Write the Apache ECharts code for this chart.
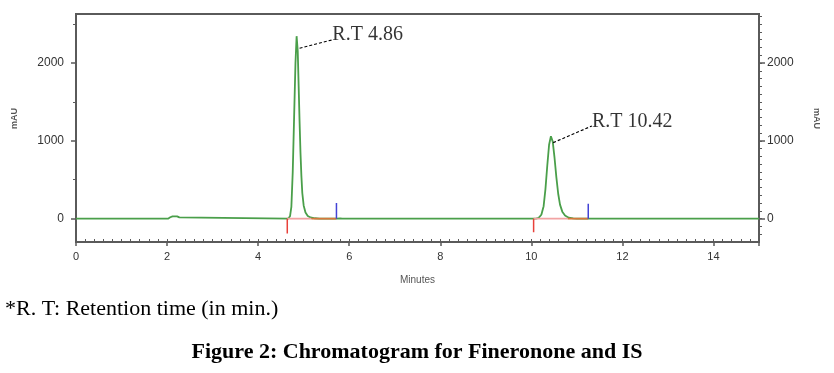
<!DOCTYPE html>
<html><head><meta charset="utf-8">
<script src="https://cdn.jsdelivr.net/npm/echarts@6/dist/echarts.min.js"></script>
<style>html,body{margin:0;padding:0;background:#fff}#c{width:834px;height:373px}</style>
</head><body><div id="c"></div>
<script>
// ---- data ----
const xTickLabels = [0, 2, 4, 6, 8, 10, 12, 14];
const yTickLabels = [0, 1000, 2000];
const yMidTicks = [-500, 500, 1500, 2500];
const yMinorTicks = [-200,-100,0,100,200,300,400,500,600,700,800,900,1000,1100,1200,1300,1400,1500,1600,1700,1800,1900,2000,2100,2200,2300,2400,2500,2600];
// chromatogram trace: [minutes, mAU]
const trace = [
  [0,0],[2.02,0],[2.07,18],[2.12,30],[2.22,30],[2.27,16],[2.31,0],
  [4.66,0],[4.70,30],[4.73,150],[4.76,600],[4.79,1300],[4.82,2000],[4.845,2345],[4.87,2150],[4.89,1700],
  [4.91,1250],[4.93,850],[4.95,550],[4.97,330],[5.00,170],[5.04,80],[5.09,35],[5.15,15],[5.25,5],[5.35,0],
  [5.72,0],[5.75,12],[5.80,4],[5.85,0],[6.58,0],[6.62,16],[6.67,0],
  [10.10,0],[10.16,10],[10.22,50],[10.27,160],[10.31,380],[10.35,680],[10.39,950],[10.43,1060],[10.47,990],
  [10.51,780],[10.55,530],[10.59,320],[10.63,180],[10.68,90],[10.74,40],[10.82,12],[10.92,3],[11.00,0],
  [15,0]
];
// integration baselines: [startMin, endMin]
const pinkBase = [[4.64, 5.17], [10.05, 10.80]];
const orangeBase = [[5.17, 5.72], [10.80, 11.25]];
// peak start markers (red, downward) and end markers (blue, upward): [minutes, mAU]
const startMarks = [[4.64, -190], [10.05, -175]];
const endMarks = [[5.72, 200], [11.25, 190]];
// annotations: leader from peak point to label point
const annoNames = ['R.T 4.86', 'R.T 10.42'];
const annoFrom = [[4.91, 2190], [10.48, 977]];
const annoTo = [[5.63, 2298], [11.33, 1191]];
const annoText = [[5.63, 2360], [11.33, 1240]];

// ---- chart ----
const chart = echarts.init(document.getElementById('c'));
const axColor = '#5a5a5a';
const grid = {left: 76, right: 75, top: 14, bottom: 131, show: true, borderColor: axColor, borderWidth: 2, backgroundColor: 'transparent'};
const labelFont = {color: '#333', fontFamily: 'Liberation Sans, Arial', fontSize: 12, formatter: v => String(v)};
const series = [];
series.push({type: 'line', data: trace, xAxisIndex: 0, yAxisIndex: 0, symbol: 'none', lineStyle: {color: '#4a9f4a', width: 1.8}, z: 3, animation: false});
pinkBase.forEach(b => series.push({type: 'line', data: [[b[0], 0], [b[1], 0]], symbol: 'none', lineStyle: {color: '#f2a3a3', width: 1.8}, z: 4, animation: false}));
orangeBase.forEach(b => series.push({type: 'line', data: [[b[0], 0], [b[1], 0]], symbol: 'none', lineStyle: {color: '#d5783c', width: 1.8}, z: 4, animation: false}));
startMarks.forEach(m => series.push({type: 'line', data: [[m[0], 0], m], symbol: 'none', lineStyle: {color: '#e8413a', width: 1.5}, z: 5, animation: false}));
endMarks.forEach(m => series.push({type: 'line', data: [[m[0], 0], m], symbol: 'none', lineStyle: {color: '#4343d6', width: 1.5}, z: 5, animation: false}));
annoNames.forEach((n, i) => {
  series.push({type: 'line', data: [annoFrom[i], annoTo[i]], symbol: 'none', lineStyle: {color: '#000', width: 1.2, type: [3, 2]}, z: 6, animation: false});
  series.push({type: 'scatter', data: [annoText[i]], symbolSize: 0, z: 6, animation: false,
    label: {show: true, position: 'right', distance: 0, formatter: n, color: '#000', fontFamily: 'Liberation Serif, Times New Roman', fontSize: 20}});
});

chart.setOption({
  animation: false,
  grid: grid,
  xAxis: [
    {type: 'value', min: 0, max: 15, interval: 2, position: 'bottom',
     axisLine: {show: true, onZero: false, lineStyle: {color: axColor, width: 2}},
     axisTick: {show: true, length: 4, lineStyle: {color: axColor, width: 1.5}},
     axisLabel: {...labelFont, fontSize: 11, margin: 9, customValues: xTickLabels},
     splitLine: {show: false},
     name: 'Minutes', nameLocation: 'middle', nameGap: 33,
     nameTextStyle: {color: '#555', fontFamily: 'Liberation Sans, Arial', fontSize: 10}},
    {type: 'value', min: 0, max: 15, interval: 0.2, position: 'bottom',
     axisLine: {show: false, onZero: false}, axisLabel: {show: false}, splitLine: {show: false},
     axisTick: {show: true, inside: true, length: 3, lineStyle: {color: axColor, width: 1}}}
  ],
  yAxis: [
    {type: 'value', min: -300, max: 2630, position: 'left',
     axisLine: {show: true, onZero: false, lineStyle: {color: axColor, width: 2}},
     axisTick: {show: true, length: 5, customValues: yTickLabels, lineStyle: {color: axColor, width: 1.5}},
     axisLabel: {...labelFont, margin: 12, customValues: yTickLabels},
     splitLine: {show: false}},
    {type: 'value', min: -300, max: 2630, position: 'left',
     axisLine: {show: false, onZero: false}, axisLabel: {show: false}, splitLine: {show: false},
     axisTick: {show: true, length: 3, customValues: yMidTicks, lineStyle: {color: axColor, width: 1}}},
    {type: 'value', min: -300, max: 2630, position: 'right',
     axisLine: {show: true, onZero: false, lineStyle: {color: axColor, width: 2}},
     axisTick: {show: true, length: 6, customValues: yTickLabels, lineStyle: {color: axColor, width: 1.5}},
     axisLabel: {...labelFont, margin: 8, customValues: yTickLabels},
     splitLine: {show: false}},
    {type: 'value', min: -300, max: 2630, position: 'right',
     axisLine: {show: false, onZero: false}, axisLabel: {show: false}, splitLine: {show: false},
     axisTick: {show: true, length: 3, customValues: yMinorTicks, lineStyle: {color: axColor, width: 1}}}
  ],
  series: series,
  graphic: [
    {type: 'text', left: 10, top: 108, rotation: Math.PI / 2,
     style: {text: 'mAU', fill: '#555', font: 'bold 9px Liberation Sans, Arial'}},
    {type: 'text', left: 812, top: 108, rotation: -Math.PI / 2,
     style: {text: 'mAU', fill: '#555', font: 'bold 9px Liberation Sans, Arial'}},
    {type: 'text', left: 5, top: 298,
     style: {text: '*R. T: Retention time (in min.)', fill: '#000', font: '22px Liberation Serif, Times New Roman'}},
    {type: 'text', left: 'center', top: 341,
     style: {text: 'Figure 2: Chromatogram for Fineronone and IS', fill: '#000', font: 'bold 22px Liberation Serif, Times New Roman'}}
  ]
});
</script></body></html>
